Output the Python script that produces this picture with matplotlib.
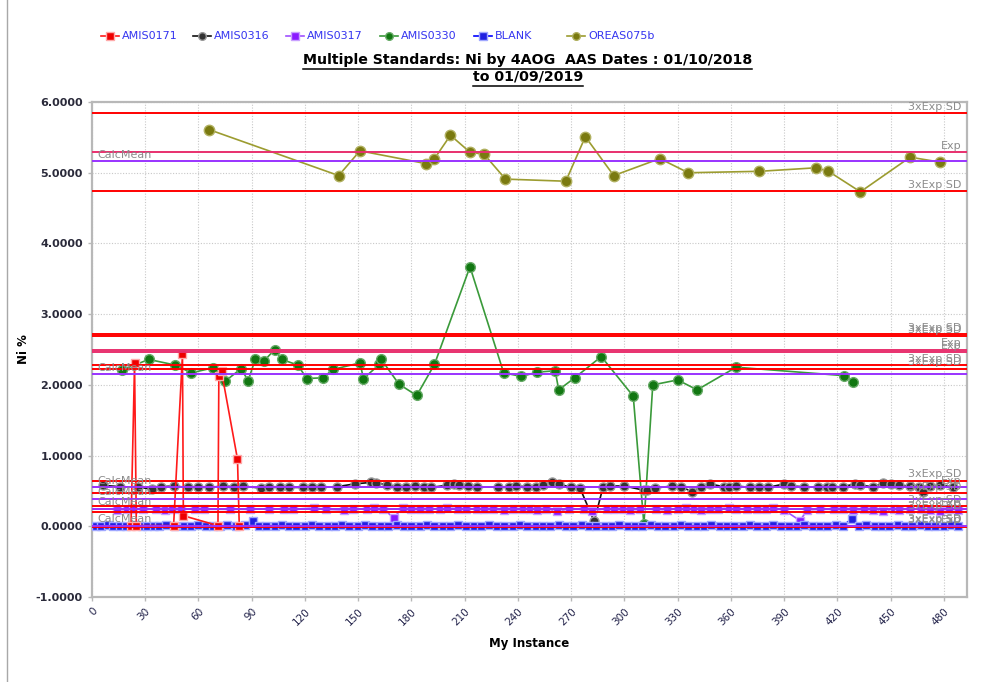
import matplotlib
matplotlib.use("Agg")
import matplotlib.pyplot as plt
from matplotlib.lines import Line2D

# ---- data ----
oreas_x = [66, 139, 151, 188, 193, 202, 213, 221, 233, 267, 278, 294, 320, 336, 376, 408, 415, 433, 461, 478]
oreas_y = [5.61, 4.96, 5.31, 5.13, 5.20, 5.53, 5.29, 5.26, 4.91, 4.88, 5.51, 4.96, 5.20, 5.00, 5.02, 5.07, 5.02,
           4.73, 5.22, 5.15]

amis0330_x = [17, 32, 47, 56, 68, 75, 84, 88, 92, 97, 103, 107, 116, 121, 130, 136, 151, 153, 162, 163, 173, 183,
              193, 213, 232, 242, 251, 261, 263, 272, 287, 305, 311, 316, 330, 341, 363, 424, 429]
amis0330_y = [2.21, 2.36, 2.28, 2.17, 2.24, 2.05, 2.23, 2.06, 2.36, 2.34, 2.50, 2.36, 2.28, 2.09, 2.10, 2.22, 2.31,
              2.09, 2.29, 2.36, 2.01, 1.85, 2.29, 3.67, 2.17, 2.12, 2.18, 2.20, 1.93, 2.10, 2.40, 1.84, 0.03, 2.00,
              2.07, 1.93, 2.25, 2.13, 2.04]

amis0171_x = [22, 24, 25, 46, 51, 51.5, 71, 71.5, 73, 82, 83]
amis0171_y = [0.01, 2.31, 0.01, 0.01, 2.43, 0.15, 0.01, 2.13, 2.19, 0.95, 0.01]

amis0316_x = [6, 16, 26, 34, 39, 46, 54, 60, 66, 74, 80, 85, 95, 100, 106, 111, 119, 124, 129, 138, 148, 157, 160,
              166, 172, 177, 182, 187, 191, 200, 204, 207, 212, 217, 229, 235, 239, 245, 250, 254, 259, 263, 270,
              275, 283, 288, 292, 300, 311, 313, 317, 327, 332, 338, 343, 348, 356, 359, 363, 371, 376, 381, 390,
              394, 401, 409, 414, 417, 423, 430, 433, 440, 446, 450, 455, 461, 466, 468, 472, 478, 485]
amis0316_y = [0.58, 0.56, 0.55, 0.53, 0.56, 0.57, 0.55, 0.56, 0.55, 0.57,
              0.56, 0.57, 0.54, 0.55, 0.56, 0.55, 0.55, 0.56, 0.55, 0.56,
              0.60, 0.62, 0.61, 0.59, 0.56, 0.55, 0.57, 0.56, 0.55, 0.58,
              0.60, 0.59, 0.57, 0.55, 0.56, 0.55, 0.57, 0.56, 0.55, 0.58,
              0.62, 0.60, 0.55, 0.54, 0.07, 0.56, 0.57, 0.57, 0.51, 0.52,
              0.54, 0.57, 0.56, 0.49, 0.55, 0.60, 0.56, 0.55, 0.57, 0.55,
              0.56, 0.55, 0.60, 0.57, 0.56, 0.55, 0.56, 0.55, 0.56, 0.60,
              0.58, 0.56, 0.61, 0.60, 0.58, 0.57, 0.55, 0.48, 0.57, 0.58, 0.56]

amis0317_x = [14, 20, 23, 29, 36, 41, 45, 50, 58, 63, 78, 89, 100, 108, 113, 125, 132, 142, 147, 155, 159, 164, 170,
              175, 180, 185, 190, 196, 200, 206, 211, 217, 221, 226, 232, 237, 243, 247, 251, 256, 262, 269, 277,
              282, 290, 294, 299, 303, 309, 318, 324, 330, 335, 339, 343, 348, 353, 359, 363, 369, 375, 380, 384,
              390, 399, 403, 410, 418, 423, 429, 435, 440, 446, 452, 455, 461, 467, 472, 478, 483, 488]
amis0317_y = [0.23, 0.24, 0.25, 0.24, 0.24, 0.23, 0.24, 0.24, 0.25, 0.24,
              0.24, 0.24, 0.25, 0.24, 0.24, 0.26, 0.24, 0.23, 0.24, 0.25,
              0.26, 0.25, 0.12, 0.26, 0.24, 0.25, 0.25, 0.24, 0.26, 0.25,
              0.24, 0.25, 0.24, 0.24, 0.23, 0.25, 0.24, 0.24, 0.23, 0.24,
              0.22, 0.24, 0.24, 0.22, 0.25, 0.24, 0.24, 0.23, 0.24, 0.24,
              0.23, 0.25, 0.26, 0.24, 0.23, 0.24, 0.25, 0.26, 0.24, 0.24,
              0.25, 0.24, 0.26, 0.23, 0.08, 0.23, 0.24, 0.24, 0.24, 0.23,
              0.24, 0.23, 0.22, 0.24, 0.23, 0.25, 0.24, 0.23, 0.22, 0.24, 0.23]

blank_x = [2, 5, 9, 12, 16, 19, 24, 28, 31, 35, 38, 42, 47, 52, 56, 60, 64, 68, 72, 76, 81, 86, 91, 94, 98, 103,
           107, 111, 115, 120, 124, 128, 133, 137, 141, 145, 150, 154, 158, 163, 167, 172, 176, 180, 185, 189, 193,
           198, 202, 206, 211, 215, 219, 224, 228, 232, 237, 241, 245, 250, 254, 258, 263, 267, 271, 276, 280, 284,
           289, 293, 297, 302, 306, 310, 315, 319, 323, 328, 332, 336, 341, 345, 349, 354, 358, 362, 367, 371, 375,
           380, 384, 388, 393, 397, 401, 406, 410, 414, 419, 423, 428, 432, 436, 441, 445, 449, 454, 458, 462, 467,
           471, 475, 480, 484, 488]
blank_y = [0.01, 0.00, 0.02, 0.01, 0.00, 0.01, 0.02, 0.00, 0.01, 0.01,
           0.00, 0.02, 0.01, 0.00, 0.01, 0.02, 0.01, 0.00, 0.01, 0.02,
           0.01, 0.02, 0.08, 0.01, 0.00, 0.01, 0.02, 0.01, 0.00, 0.01,
           0.02, 0.01, 0.00, 0.01, 0.02, 0.01, 0.00, 0.02, 0.01, 0.00,
           0.01, 0.02, 0.01, 0.01, 0.00, 0.02, 0.01, 0.00, 0.01, 0.02,
           0.01, 0.00, 0.01, 0.02, 0.01, 0.00, 0.01, 0.02, 0.01, 0.00,
           0.01, 0.01, 0.02, 0.00, 0.01, 0.02, 0.01, 0.00, 0.01, 0.01,
           0.02, 0.01, 0.00, 0.01, 0.02, 0.01, 0.00, 0.01, 0.02, 0.01,
           0.00, 0.01, 0.02, 0.01, 0.00, 0.01, 0.01, 0.02, 0.00, 0.01,
           0.02, 0.01, 0.00, 0.01, 0.02, 0.01, 0.00, 0.01, 0.02, 0.01,
           0.10, 0.01, 0.02, 0.00, 0.01, 0.01, 0.02, 0.00, 0.01, 0.02,
           0.01, 0.00, 0.01, 0.02, 0.01]

# control lines: expected value, 3 x expected SD, calculated mean
exp_values = [5.29, 2.50, 2.46, 0.555, 0.243, 0.0]
exp_sd3 = [0.55, 0.218, 0.23, 0.088, 0.044, 0.006]
calc_means = [5.16, 2.154, 0.555, 0.39, 0.25, 0.01]

legend_names = ["AMIS0171", "AMIS0316", "AMIS0317", "AMIS0330", "BLANK", "OREAS075b"]
title_lines = ["Multiple Standards: Ni by 4AOG  AAS Dates : 01/10/2018", "to 01/09/2019"]

# ---- styles ----
styles = {
    "AMIS0171": dict(color="#ff1a1a", marker="s", mfc="#ee0000", mec="#ffaaaa", ms=6),
    "AMIS0316": dict(color="#111111", marker="o", mfc="#333333", mec="#999999", ms=6.5),
    "AMIS0317": dict(color="#a050ff", marker="s", mfc="#8a1aff", mec="#c9a0ff", ms=6),
    "AMIS0330": dict(color="#3a9a3a", marker="o", mfc="#117711", mec="#66aa66", ms=7),
    "BLANK": dict(color="#0000ff", marker="s", mfc="#2020e0", mec="#a0a8ff", ms=6),
    "OREAS075b": dict(color="#9c9c30", marker="o", mfc="#7a7a10", mec="#b0b060", ms=7.5),
}

W, H = 992, 682
fig = plt.figure(figsize=(9.92, 6.82), dpi=100)
ax = fig.add_axes([0.0927, 0.1246, 0.882, 0.7258])

series = [
    ("OREAS075b", oreas_x, oreas_y),
    ("AMIS0330", amis0330_x, amis0330_y),
    ("AMIS0316", amis0316_x, amis0316_y),
    ("AMIS0317", amis0317_x, amis0317_y),
    ("BLANK", blank_x, blank_y),
    ("AMIS0171", amis0171_x, amis0171_y),
]
for name, xs, ys in series:
    st = styles[name]
    ax.plot(xs, ys, color=st["color"], lw=1.2, marker=st["marker"], ms=st["ms"],
            mfc=st["mfc"], mec=st["mec"], mew=1.0, zorder=3)

# control lines
x_right = 490
label_kw = dict(textcoords="offset points", va="bottom", color="#8c8c8c", fontsize=8,
                annotation_clip=False, zorder=6)
for ev, sd in zip(exp_values, exp_sd3):
    ax.axhline(ev + sd, color="#ff0000", lw=1.4, zorder=4)
    ax.axhline(ev - sd, color="#ff0000", lw=1.4, zorder=4)
    ax.axhline(ev, color="#e8306e", lw=1.4, zorder=4)
    ax.annotate("3xExp SD", xy=(x_right, ev + sd), xytext=(0, 1), ha="right", **label_kw)
    ax.annotate("Exp", xy=(x_right, ev), xytext=(0, 1), ha="right", **label_kw)
    ax.annotate("3xExp SD", xy=(x_right, ev - sd), xytext=(0, 1), ha="right", **label_kw)
for cm in calc_means:
    ax.axhline(cm, color="#9933ff", lw=1.4, zorder=4)
    ax.annotate("CalcMean", xy=(3, cm), xytext=(0, 1), ha="left", **label_kw)

ax.set_xlim(0, 493)
ax.set_ylim(-1, 6)
ax.set_xticks(range(0, 481, 30))
ax.set_yticks(range(-1, 7))
ax.set_yticklabels([f"{v:.4f}" for v in range(-1, 7)])
ax.grid(True, color="#c8c8c8", linestyle=(0, (1, 1.5)), lw=0.8, zorder=0)
for sp in ax.spines.values():
    sp.set_color("#b8b8b8")
    sp.set_linewidth(1.6)
ax.tick_params(axis="both", color="#b8b8b8", length=3, width=1)
ax.tick_params(axis="y", labelsize=8, labelcolor="#2a2a3a")
ax.tick_params(axis="x", labelsize=7.5, labelcolor="#22224a")
for lbl in ax.get_yticklabels():
    lbl.set_fontweight("bold")
for lbl in ax.get_xticklabels():
    lbl.set_rotation(45)
    lbl.set_ha("right")
    lbl.set_va("top")
    lbl.set_rotation_mode("anchor")

ax.set_xlabel("My Instance", fontsize=8.5, fontweight="bold", labelpad=7)
ax.set_ylabel("Ni %", fontsize=8.5, fontweight="bold", labelpad=4)

# title (underlined)
t1 = fig.text(0.532, 1 - 64 / H, title_lines[0], ha="center", va="baseline", fontsize=10.2, fontweight="bold")
t2 = fig.text(0.532, 1 - 81 / H, title_lines[1], ha="center", va="baseline", fontsize=10.2, fontweight="bold")

# legend along the top
leg_centers = [110, 202, 295, 389, 483, 576]
leg_y = 1 - 36 / H
for name, cx in zip(legend_names, leg_centers):
    st = styles[name]
    fig.add_artist(Line2D([(cx - 9) / W, cx / W, (cx + 9) / W], [leg_y] * 3, transform=fig.transFigure,
                          color=st["color"], lw=1.2, marker=st["marker"], markevery=[1], ms=5.5,
                          mfc=st["mfc"], mec=st["mec"]))
    fig.text((cx + 12) / W, leg_y, name, ha="left", va="center", fontsize=8, color="#3535f0")

# outer frame on the left
fig.add_artist(Line2D([7 / W, 7 / W], [0.0, 1.0], transform=fig.transFigure, color="#a8a8a8", lw=1))

fig.canvas.draw()
renderer = fig.canvas.get_renderer()
for t in (t1, t2):
    bb = t.get_window_extent(renderer)
    yy = (bb.y0 - 1.5) / H
    fig.add_artist(Line2D([bb.x0 / W, bb.x1 / W], [yy, yy], transform=fig.transFigure, color="black", lw=1.1))

fig.savefig("out.png", dpi=100)
